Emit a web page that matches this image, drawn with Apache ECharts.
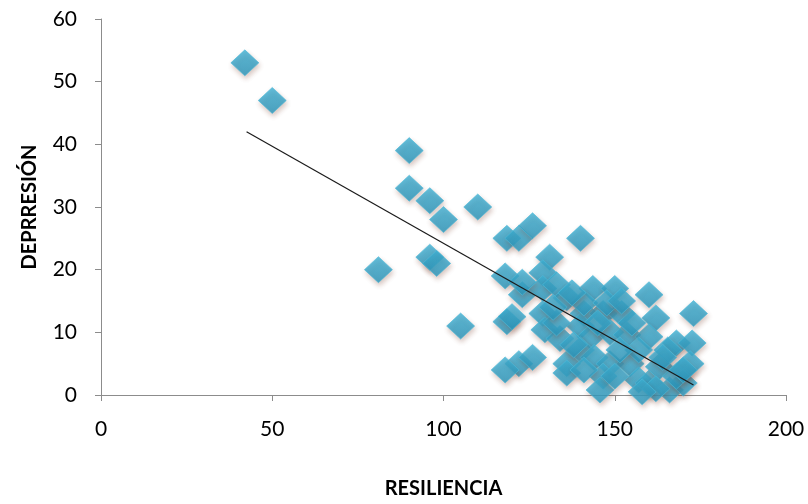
<!DOCTYPE html>
<html>
<head>
<meta charset="utf-8">
<script src="https://cdn.jsdelivr.net/npm/echarts@6/dist/echarts.min.js"></script>
<style>html,body{margin:0;padding:0;background:#fff}#c{width:808px;height:504px}</style>
</head>
<body>
<div id="c"></div>
<script>
const resiliencia = [42,50,90,90,96,100,110,81,96,98,105,118.5,122,126,140,131,118,129,123,129,133,136,143.6,150,160,173,118.5,120,129,129.6,134,141,146.6,152,162,140,143,148.6,153.6,160,168,172.6,122,126,118,136,140,144,148.6,146.6,145.7,154.5,157,160,163,166,170,172,165.5,157,151.5,133,141,147.7,132,123,137.5,145,155,136,141,150,162,168,158,138,152,164,170];
const depresion = [53,47,39,33,31,28,30,20,22,21,11,25,25,27,25,22,19,19.5,16,17,17.6,15.5,17,17,16,13,11.7,12.5,13,10.4,9,13,13,13,12.3,11,9.3,10,9.6,9.3,8.3,8.3,5,6,4,5,7.2,6,5,3,0.8,5,2.4,1.9,4.5,0.8,1.9,5,7.2,7.2,7.2,11.5,14.7,14.7,14,18,16.3,11.5,11.5,3.5,4,3,1,3,0.5,8,15,6,4];
const trendX = [42.5, 173];
const trendY = [42, 1.6];
const xTicks = [0, 50, 100, 150, 200];
const yTicks = [0, 10, 20, 30, 40, 50, 60];

const chart = echarts.init(document.getElementById('c'), null, {renderer: 'canvas'});
const font = 'Lato, "Open Sans", sans-serif';
chart.setOption({
  animation: false,
  backgroundColor: '#fff',
  grid: {left: 101, right: 22, top: 19, bottom: 109, containLabel: false, outerBoundsMode: 'none'},
  xAxis: {
    type: 'value', min: 0, max: 200, interval: 50,
    name: 'RESILIENCIA', nameLocation: 'middle', nameGap: 84,
    nameTextStyle: {fontFamily: font, fontWeight: 'bold', fontSize: 20, color: '#000'},
    axisLine: {show: true, lineStyle: {color: '#8c8c8c', width: 1}},
    axisTick: {show: true, length: 6, lineStyle: {color: '#8c8c8c'}},
    axisLabel: {fontFamily: font, fontSize: 21, color: '#000', margin: 24, formatter: v => xTicks.includes(v) ? String(v) : ''},
    splitLine: {show: false}
  },
  yAxis: {
    type: 'value', min: 0, max: 60, interval: 10,
    name: 'DEPRRESIÓN', nameLocation: 'middle', nameGap: 61, nameRotate: 90,
    nameTextStyle: {fontFamily: font, fontWeight: 'bold', fontSize: 20, color: '#000'},
    axisLine: {show: true, lineStyle: {color: '#8c8c8c', width: 1}},
    axisTick: {show: true, length: 6, lineStyle: {color: '#8c8c8c'}},
    axisLabel: {fontFamily: font, fontSize: 21, color: '#000', margin: 24, formatter: v => yTicks.includes(v) ? String(v) : ''},
    splitLine: {show: false}
  },
  series: [
    {
      type: 'scatter',
      symbol: 'diamond',
      symbolSize: [28, 26],
      data: resiliencia.map((x, i) => [x, depresion[i]]),
      itemStyle: {
        color: new echarts.graphic.LinearGradient(0, 0, 0, 1, [
          {offset: 0, color: '#3cb1d5'},
          {offset: 1, color: '#2696bd'}
        ]),
        borderColor: '#4dbad9', borderWidth: 0.8,
        shadowBlur: 5, shadowColor: 'rgba(120,60,40,0.35)', shadowOffsetX: 1, shadowOffsetY: 3
      },
      z: 2
    },
    {
      type: 'line',
      data: trendX.map((x, i) => [x, trendY[i]]),
      symbol: 'none',
      lineStyle: {color: '#1a1a1a', width: 1.2},
      z: 3
    }
  ]
});
</script>
</body>
</html>
